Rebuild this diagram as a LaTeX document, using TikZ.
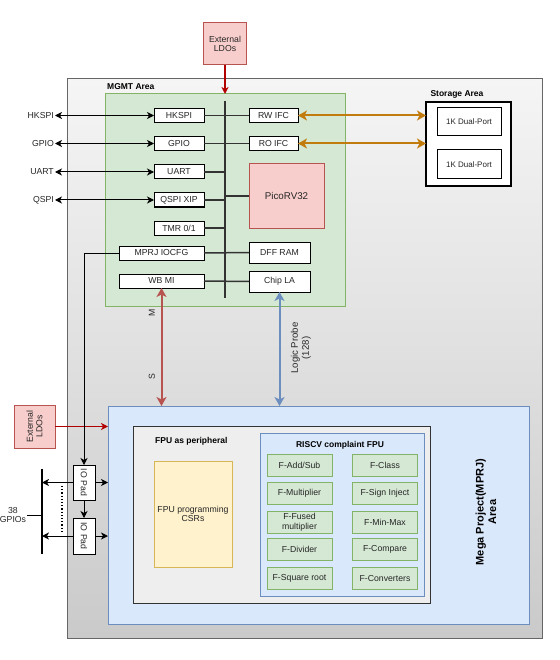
\documentclass[tikz,border=0pt]{standalone}
\usepackage{fontspec}
\setmainfont{Liberation Sans}
\usetikzlibrary{arrows.meta}
\definecolor{redfill}{HTML}{F8CECC}
\definecolor{redline}{HTML}{B85450}
\definecolor{greenfill}{HTML}{D5E8D4}
\definecolor{greenline}{HTML}{82B366}
\definecolor{bluefill}{HTML}{DAE8FC}
\definecolor{blueline}{HTML}{6C8EBF}
\definecolor{yellowfill}{HTML}{FFF2CC}
\definecolor{yellowline}{HTML}{D6B656}
\definecolor{orangeline}{HTML}{C27C0E}
\definecolor{powerred}{HTML}{B20000}
\definecolor{chiptop}{HTML}{F5F5F5}
\definecolor{chipbot}{HTML}{CACACA}
\definecolor{chipline}{HTML}{666666}
\definecolor{busline}{HTML}{333333}
\definecolor{perfill}{HTML}{EEEEEE}
\tikzset{
  txt/.style={font=\fontsize{8.7}{9.7}\selectfont, text=black!85},
  lbl/.style={font=\fontsize{8.5}{9.5}\selectfont\bfseries, inner sep=1pt},
  blk/.style={txt, draw, rectangle, fill=white, line width=1pt, inner sep=0pt, outer sep=0pt},
  fblk/.style={txt, draw=greenline, fill=greenfill, rectangle, line width=1pt, inner sep=0pt, outer sep=0pt, minimum width=65, minimum height=22, align=center},
  area/.style={draw, rectangle, line width=1pt, inner sep=0pt, outer sep=0pt},
  conn/.style={draw=busline, line width=1.5pt},
  sig/.style={line width=1pt, >={Stealth[length=7pt,width=7pt,inset=2pt]}},
  fat/.style={line width=2pt, >={Stealth[length=9pt,width=10pt,inset=2.5pt]}}
}
\begin{document}
\begin{tikzpicture}[x=1pt, y=-1pt]
\useasboundingbox (0,0) rectangle (559,660);
\node[area, draw=chipline, top color=chiptop, bottom color=chipbot, minimum width=475, minimum height=559] (chip) at (304.5,358.5) {};
\node[blk, draw=redline, fill=redfill, minimum width=43, minimum height=42, align=center] (ldotop) at (225,44) {External\\LDOs};
\node[area, draw=greenline, fill=greenfill, minimum width=240, minimum height=212] (mgmt) at (225,200) {};
\node[lbl, anchor=west] (mgmtlbl) at (106,87) {MGMT Area};
\draw[sig, ->, powerred, line width=1.5pt] (ldotop) -- (mgmt.north);
\coordinate (bustop) at (225,101);
\coordinate (busbot) at (225,298);
\draw[busline, line width=2.2pt] (bustop) -- (busbot);
\node[blk, minimum width=50, minimum height=14] (hkspi) at (179,115.5) {HKSPI};
\node[blk, minimum width=50, minimum height=14] (gpio) at (179,143.5) {GPIO};
\node[blk, minimum width=50, minimum height=14] (uart) at (179,172) {UART};
\node[blk, minimum width=50, minimum height=14] (qspi) at (179,200) {QSPI XIP};
\node[blk, minimum width=50, minimum height=14] (tmr) at (179,228) {TMR 0/1};
\node[blk, minimum width=85, minimum height=14] (iocfg) at (161.5,253) {MPRJ IOCFG};
\node[blk, minimum width=85, minimum height=14] (wbmi) at (161.5,281) {WB MI};
\node[blk, minimum width=49, minimum height=14] (rwifc) at (273.5,115.5) {RW IFC};
\node[blk, minimum width=49, minimum height=14] (roifc) at (273.5,143.5) {RO IFC};
\node[blk, draw=redline, fill=redfill, minimum width=75, minimum height=64, font=\fontsize{9.8}{11}\selectfont] (pico) at (286.5,196) {PicoRV32};
\node[blk, minimum width=61, minimum height=21] (dffram) at (279.5,252.5) {DFF RAM};
\node[blk, minimum width=61, minimum height=21] (chipla) at (279.5,281.5) {Chip LA};
\draw[conn] (hkspi.east) -- (rwifc.west);
\draw[conn] (gpio.east) -- (roifc.west);
\draw[conn] (uart.east) -- (uart.east -| bustop);
\draw[conn] (qspi.east) -- (qspi.east -| bustop);
\draw[conn] (tmr.east) -- (tmr.east -| bustop);
\draw[conn] (pico.west) -- (pico.west -| bustop);
\draw[conn] (iocfg.east) -- (dffram.west);
\draw[conn] (wbmi.east) -- (chipla.west);
\node[txt, anchor=east, inner sep=1pt] (lhkspi) at (55,115.5) {HKSPI};
\node[txt, anchor=east, inner sep=1pt] (lgpio) at (55,143.5) {GPIO};
\node[txt, anchor=east, inner sep=1pt] (luart) at (55,172) {UART};
\node[txt, anchor=east, inner sep=1pt] (lqspi) at (55,200) {QSPI};
\draw[sig, <->] (lhkspi) -- (hkspi);
\draw[sig, <->] (lgpio) -- (gpio);
\draw[sig, <->] (luart) -- (uart);
\draw[sig, <->] (lqspi) -- (qspi);
\node[area, fill=white, line width=1.5pt, minimum width=85, minimum height=84] (storage) at (468.5,144) {};
\node[lbl] (storagelbl) at (457,94) {Storage Area};
\node[blk, minimum width=64, minimum height=28, font=\fontsize{8}{9}\selectfont] (dpa) at (469,122) {1K Dual-Port};
\node[blk, minimum width=64, minimum height=29, font=\fontsize{8}{9}\selectfont] (dpb) at (469,164.5) {1K Dual-Port};
\draw[fat, <->, orangeline] (rwifc.east) -- (rwifc.east -| storage.west);
\draw[fat, <->, orangeline] (roifc.east) -- (roifc.east -| storage.west);
\node[area, draw=blueline, fill=bluefill, minimum width=421, minimum height=218] (mprj) at (318.5,515) {};
\node[lbl, rotate=90, align=center, font=\fontsize{11}{12.5}\selectfont\bfseries] (mprjlbl) at (486,512) {Mega Project(MPRJ)\\Area};
\draw[fat, <->, redline] (wbmi.south) -- (wbmi.south |- mprj.north);
\draw[fat, <->, blueline] (chipla.south) -- (chipla.south |- mprj.north);
\node[txt, rotate=90] (mlbl) at (152,313) {M};
\node[txt, rotate=90] (slbl) at (152,377) {S};
\node[txt, rotate=90, align=center, font=\fontsize{9.6}{11}\selectfont] (lplbl) at (301,348) {Logic Probe\\(128)};
\node[blk, draw=redline, fill=redfill, minimum width=43, minimum height=41, rotate=90, align=center] (ldoleft) at (34.5,426.5) {External\\LDOs};
\draw[sig, ->, powerred, line width=1.5pt] (ldoleft.south) -- (ldoleft.south -| mprj.west);
\node[area, draw=busline, fill=perfill, minimum width=297, minimum height=177] (fpuper) at (281.5,514.5) {};
\node[lbl, anchor=west] (fpuperlbl) at (154,441) {FPU as peripheral};
\node[blk, draw=yellowline, fill=yellowfill, minimum width=78, minimum height=106, align=center] (csr) at (193,514) {FPU programming\\CSRs};
\node[area, draw=blueline, fill=bluefill, minimum width=164, minimum height=163] (riscv) at (342,514.5) {};
\node[lbl] (riscvlbl) at (340,445) {RISCV complaint FPU};
\node[fblk] (fadd) at (299.5,465) {F-Add/Sub};
\node[fblk] (fmul) at (299.5,493) {F-Multiplier};
\node[fblk] (ffma) at (299.5,522) {F-Fused\\multiplier};
\node[fblk] (fdiv) at (299.5,549.5) {F-Divider};
\node[fblk] (fsqrt) at (299.5,578.5) {F-Square root};
\node[fblk] (fclass) at (385,465) {F-Class};
\node[fblk] (fsgn) at (385,493) {F-Sign Inject};
\node[fblk] (fmin) at (385,522) {F-Min-Max};
\node[fblk] (fcmp) at (385,549.5) {F-Compare};
\node[fblk] (fcvt) at (385,578.5) {F-Converters};
\node[blk, minimum width=35, minimum height=22, rotate=-90] (pada) at (84,482.5) {IO Pad};
\node[blk, minimum width=36, minimum height=22, rotate=-90] (padb) at (84,536) {IO Pad};
\draw[sig, ->] (iocfg.west) -| (pada.west);
\draw[sig, ->] (pada.east) -- (padb.west);
\draw[sig, ->] (pada.north) -- (pada.north -| mprj.west);
\draw[sig, ->] (padb.north) -- (padb.north -| mprj.west);
\coordinate (gbtop) at (42,469);
\coordinate (gbbot) at (42,554);
\draw[line width=1.2pt] (gbtop) -- (gbbot);
\draw[sig, ->] (pada.south) -- (pada.south -| gbtop);
\draw[sig, ->] (padb.south) -- (padb.south -| gbtop);
\coordinate (dota) at (62,486);
\coordinate (dotb) at (62,531);
\draw[dotted, line width=1.2pt] (dota) -- (dotb);
\node[txt, align=center, inner sep=1pt] (gpios) at (13,515) {38\\GPIOs};
\draw[line width=1pt] (gpios.east) -- (gpios.east -| gbtop);
\end{tikzpicture}
\end{document}
